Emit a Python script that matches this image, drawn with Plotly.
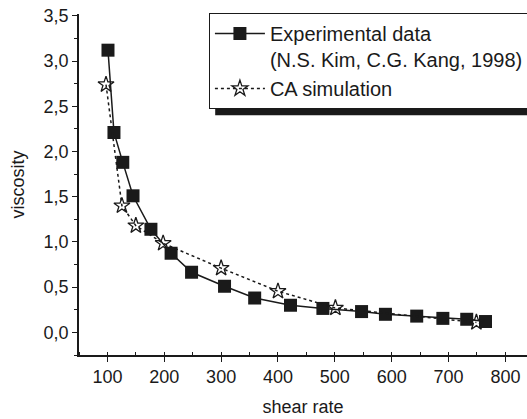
import plotly.graph_objects as go

exp_x = [101, 111.5, 127, 145, 176.5, 212, 248, 306, 359, 422, 479, 547, 589, 644, 690, 732, 765]
exp_y = [3.12, 2.21, 1.88, 1.51, 1.14, 0.875, 0.665, 0.51, 0.38, 0.30, 0.265, 0.23, 0.20, 0.18, 0.155, 0.145, 0.12]
ca_x = [97.5, 125.5, 150, 198, 300, 400, 501, 749]
ca_y = [2.74, 1.40, 1.18, 0.985, 0.71, 0.455, 0.27, 0.11]

x_ticks = [100, 200, 300, 400, 500, 600, 700, 800]
y_ticks = [0.0, 0.5, 1.0, 1.5, 2.0, 2.5, 3.0, 3.5]
y_labels = [f"{v:.1f}".replace(".", ",") for v in y_ticks]

font = "Liberation Sans, Arial, sans-serif"

fig = go.Figure()
fig.add_trace(go.Scatter(
    x=exp_x, y=exp_y, mode="lines+markers",
    name="Experimental data<br>(N.S. Kim, C.G. Kang, 1998)",
    line=dict(color="#1a1a1a", width=1.5),
    marker=dict(symbol="square", size=13, color="#1a1a1a"),
))
fig.add_trace(go.Scatter(
    x=ca_x, y=ca_y, mode="lines+markers", name="CA simulation",
    line=dict(color="#1a1a1a", width=1.5, dash="dot"),
    marker=dict(symbol="star-open", size=12, color="#1a1a1a", line=dict(width=1.3)),
))

# legend drop shadow (sits behind the legend box, offset downward)
fig.add_shape(type="rect", xref="paper", yref="paper",
              x0=0.304, x1=1.0, y0=0.703, y1=0.95,
              fillcolor="#1a1a1a", line=dict(width=0), layer="below")

fig.update_layout(
    width=527, height=419,
    margin=dict(l=79, r=0, t=14, b=64, autoexpand=False),
    plot_bgcolor="white", paper_bgcolor="white",
    font=dict(family=font, size=18, color="#1a1a1a"),
    showlegend=True,
    legend=dict(x=0.29, y=1.003, xanchor="left", yanchor="top",
                bgcolor="white", bordercolor="#1a1a1a", borderwidth=1,
                font=dict(size=20), tracegroupgap=0, valign="top",
                itemwidth=50),
    xaxis=dict(range=[50, 838], tickvals=x_ticks, showline=True, linecolor="#1a1a1a",
               linewidth=1.5, ticks="outside", ticklen=5, tickcolor="#1a1a1a",
               minor=dict(ticks="inside", ticklen=3, dtick=50, tickcolor="#1a1a1a"),
               showgrid=False, zeroline=False, automargin=False,
               title=dict(text="shear rate", font=dict(size=18), standoff=14)),
    yaxis=dict(range=[-0.25, 3.52], tickvals=y_ticks, ticktext=y_labels, showline=True,
               linecolor="#1a1a1a", linewidth=1.5, ticks="outside", ticklen=5,
               tickcolor="#1a1a1a",
               minor=dict(ticks="outside", ticklen=3, dtick=0.25, tickcolor="#1a1a1a"),
               showgrid=False, zeroline=False, automargin=False,
               title=dict(text="viscosity", font=dict(size=18), standoff=14)),
)

fig.write_html("out.html")
